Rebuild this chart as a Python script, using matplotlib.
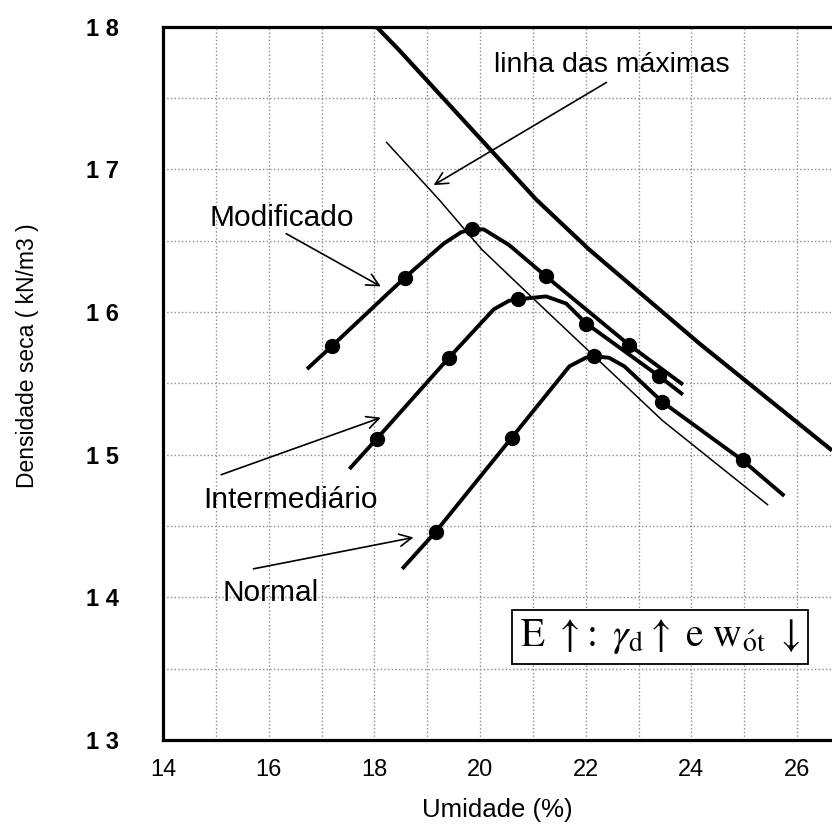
import matplotlib
matplotlib.use("Agg")
import matplotlib.pyplot as plt
from matplotlib.ticker import MultipleLocator

plt.rcParams['font.family'] = ['Liberation Sans', 'DejaVu Sans']
plt.rcParams['mathtext.fontset'] = 'stix'

# curves (umidade %, densidade seca kN/m3)
mod_w = [16.75, 17.19, 18.57, 19.31, 19.64, 19.84, 20.07, 20.55, 21.25, 22.82, 23.81]
mod_g = [15.61, 15.76, 16.24, 16.48, 16.56, 16.58, 16.58, 16.47, 16.25, 15.77, 15.50]
mod_pw = [17.19, 18.57, 19.84, 21.25, 22.82]
mod_pg = [15.76, 16.24, 16.58, 16.25, 15.77]

int_w = [17.55, 18.04, 19.41, 20.26, 20.55, 20.72, 21.25, 21.63, 22.01, 23.39, 23.81]
int_g = [14.91, 15.11, 15.68, 16.02, 16.08, 16.09, 16.11, 16.06, 15.92, 15.55, 15.43]
int_pw = [18.04, 19.41, 20.72, 22.01, 23.39]
int_pg = [15.11, 15.68, 16.09, 15.92, 15.55]

nor_w = [18.55, 19.16, 20.60, 21.69, 22.00, 22.16, 22.44, 22.73, 23.45, 24.97, 25.73]
nor_g = [14.21, 14.46, 15.12, 15.62, 15.68, 15.69, 15.68, 15.62, 15.37, 14.96, 14.72]
nor_pw = [19.16, 20.60, 22.16, 23.45, 24.97]
nor_pg = [14.46, 15.12, 15.69, 15.37, 14.96]

# linha das maximas (thin) and upper bound (thick)
max_w = [18.23, 19.22, 20.03, 21.02, 23.45, 25.44]
max_g = [17.19, 16.79, 16.44, 16.09, 15.24, 14.65]
sat_w = [18.04, 18.46, 21.06, 22.06, 24.15, 26.66]
sat_g = [18.00, 17.84, 16.79, 16.44, 15.78, 15.03]

x_ticks = [14, 16, 18, 20, 22, 24, 26]
y_ticks = [13, 14, 15, 16, 17, 18]
y_ticklabels = ['1 3', '1 4', '1 5', '1 6', '1 7', '1 8']

fig = plt.figure(figsize=(8.32, 8.39), dpi=100)
ax = fig.add_axes([0.196, 0.118, 0.804, 0.850])

ax.set_xlim(14, 26.66)
ax.set_ylim(13, 18)
ax.set_xticks(x_ticks)
ax.set_yticks(y_ticks)
ax.set_yticklabels(y_ticklabels, fontweight='bold')
ax.xaxis.set_minor_locator(MultipleLocator(1))
ax.yaxis.set_minor_locator(MultipleLocator(0.5))
ax.tick_params(which='both', length=0)
ax.tick_params(axis='x', pad=14, labelsize=17)
ax.tick_params(axis='y', pad=32, labelsize=17)
ax.grid(which='both', linestyle=':', color='0.55', linewidth=1.0)
ax.set_axisbelow(True)

for s in ['left', 'bottom', 'top']:
    ax.spines[s].set_linewidth(2.3)
ax.spines['right'].set_visible(False)

ax.plot(sat_w, sat_g, color='black', lw=3.0, solid_capstyle='butt')
ax.plot(max_w, max_g, color='black', lw=1.1)

for w, g, pw, pg in [(mod_w, mod_g, mod_pw, mod_pg),
                     (int_w, int_g, int_pw, int_pg),
                     (nor_w, nor_g, nor_pw, nor_pg)]:
    ax.plot(w, g, color='black', lw=2.8, solid_joinstyle='round')
    ax.plot(pw, pg, 'o', color='black', markersize=10)

# labels and arrows (arrows drawn separately from text, like the original)
arrow = dict(arrowstyle='->', lw=1.2, color='black', mutation_scale=22,
             shrinkA=0, shrinkB=0)
ax.text(16.24, 16.66, 'Modificado', fontsize=21.5, ha='center', va='center')
ax.annotate('', xy=(18.12, 16.18), xytext=(16.33, 16.55), arrowprops=arrow)
ax.text(16.41, 14.68, 'Intermediário', fontsize=21.5, ha='center', va='center')
ax.annotate('', xy=(18.12, 15.26), xytext=(15.10, 14.86), arrowprops=arrow)
ax.text(16.03, 14.03, 'Normal', fontsize=21.5, ha='center', va='center')
ax.annotate('', xy=(18.74, 14.42), xytext=(15.71, 14.20), arrowprops=arrow)
ax.text(22.50, 17.73, 'linha das máximas', fontsize=20.5, ha='center', va='center')
ax.annotate('', xy=(19.12, 16.89), xytext=(22.39, 17.61), arrowprops=arrow)

ax.text(0.743, 0.1445,
        r'$\mathrm{E}\ \uparrow\!:\ \gamma_{\mathrm{d}}\uparrow\ \mathrm{e}\ \mathrm{w}_{\mathrm{\acute{o}t}}\ \downarrow$',
        transform=ax.transAxes, fontsize=28.5, ha='center', va='center',
        bbox=dict(boxstyle='square,pad=0.2', facecolor='white', edgecolor='black', lw=1.3))

ax.set_xlabel('Umidade (%)', fontsize=18.5, labelpad=12)
fig.text(0.033, 0.576, 'Densidade seca ( kN/m3 )', rotation=90, fontsize=16.5,
         ha='center', va='center')

fig.savefig('out.png', dpi=100)
